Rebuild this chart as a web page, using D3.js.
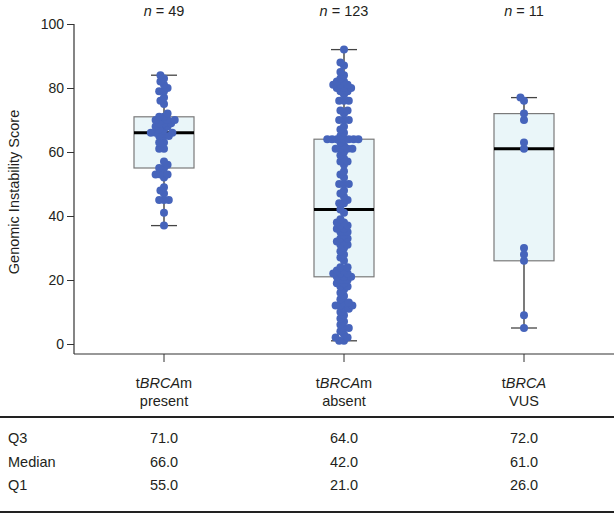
<!DOCTYPE html>
<html><head><meta charset="utf-8">
<script src="https://cdn.jsdelivr.net/npm/d3@7"></script>
<style>
body{margin:0;background:#fff;}
svg text{font-family:"Liberation Sans",Arial,sans-serif;fill:#231f20;}
</style></head>
<body><svg id="c" width="614" height="515"></svg>
<script>
const categories = ["present", "absent", "VUS"];
const catLine1 = [["t","BRCA","m"],["t","BRCA","m"],["t","BRCA",""]];
const catLine2 = ["present", "absent", "VUS"];
const nCounts = [49, 123, 11];
const q3Values = [71, 64, 72];
const medianValues = [66, 42, 61];
const q1Values = [55, 21, 26];
const rowLabels = ["Q3", "Median", "Q1"];
const yTicks = [0, 20, 40, 60, 80, 100];

const presentScores = [37,41,45,45,45,47,48,49,52,53,53,53,55,55,56,57,61,61,63,63,65,65,65,66,66,66,67,67,68,68,69,69,69,70,70,70,71,71,72,75,76,77,79,79,80,81,82,83,84];
const absentScores = [92,88,87,85,84,83,82,82,81,81,81,80,80,80,79,79,78,76,76,76,73,73,72,70,70,70,68,67,66,65,64,64,64,64,64,64,64,63,62,61,61,61,61,60,59,58,57,57,56,54,53,52,50,50,50,48,47,46,45,44,44,42,41,39,38,38,37,37,36,36,35,35,34,33,33,32,32,31,31,30,29,28,27,26,24,24,23,23,22,22,22,21,21,21,20,20,19,19,18,18,17,16,15,14,13,13,12,12,12,11,11,10,9,8,7,6,5,5,4,3,2,2,1,1];
const vusScores = [77,76,72,70,63,61,30,28,26,9,5];
const groups = [presentScores, absentScores, vusScores];

const svg = d3.select("#c");
const y = d3.scaleLinear().domain([0,100]).range([344,24]);
const x = d3.scaleBand().domain(categories).range([74,614]);
const cx = c => x(c) + x.bandwidth()/2;
const boxW = 60, capW = 26, R = 4, D = 4.8;

// y axis
const yAxis = svg.append("g").attr("transform","translate(74,0)")
  .call(d3.axisLeft(y).tickValues(yTicks).tickSize(7).tickPadding(3));
yAxis.select(".domain").remove();
yAxis.selectAll("line").attr("stroke","#333");
yAxis.selectAll("text").style("font-size","14px").attr("fill","#231f20");
svg.append("line").attr("x1",74).attr("x2",74).attr("y1",y(100)).attr("y2",354).attr("stroke","#333").attr("stroke-width",1.2);

// x axis
const xAxis = svg.append("g").attr("transform","translate(0,354)")
  .call(d3.axisBottom(x).tickSize(8).tickFormat(""));
xAxis.select(".domain").remove();
xAxis.selectAll("line").attr("stroke","#333");
svg.append("line").attr("x1",74).attr("x2",614).attr("y1",354).attr("y2",354).attr("stroke","#333").attr("stroke-width",1.2);

svg.append("text").attr("transform","translate(19,192) rotate(-90)")
  .attr("text-anchor","middle").style("font-size","14.5px").text("Genomic Instability Score");

function swarm(vals){
  const sorted = vals.map((v,i)=>({v,i})).sort((a,b)=>a.v-b.v);
  const placed = [];
  sorted.forEach(p=>{
    const py = y(p.v);
    const iv = [];
    placed.forEach(q=>{
      const dy = Math.abs(q.y-py);
      if (dy < D){ const h = Math.sqrt(D*D-dy*dy); iv.push([q.x-h,q.x+h]); }
    });
    const cands=[0];
    iv.forEach(a=>{cands.push(a[0],a[1]);});
    cands.sort((a,b)=>Math.abs(a)-Math.abs(b) || a-b);
    let bx=0;
    for (const c of cands){
      if (!iv.some(a=>c>a[0]+1e-6 && c<a[1]-1e-6)){ bx=c; break; }
    }
    placed.push({x:bx,y:py,v:p.v});
  });
  return placed;
}

categories.forEach((c,i)=>{
  const g = svg.append("g");
  const vals = groups[i];
  const xc = cx(c);
  const mn = d3.min(vals), mx = d3.max(vals);
  g.append("line").attr("x1",xc).attr("x2",xc).attr("y1",y(mx)).attr("y2",y(mn)).attr("stroke","#222").attr("stroke-width",1.2);
  g.append("rect").attr("x",xc-boxW/2).attr("width",boxW)
    .attr("y",y(q3Values[i])).attr("height",y(q1Values[i])-y(q3Values[i]))
    .attr("fill","#eaf6f9").attr("stroke","#7a7a7a").attr("stroke-width",1.2);
  [mn,mx].forEach(v=>g.append("line").attr("x1",xc-capW/2).attr("x2",xc+capW/2)
    .attr("y1",y(v)).attr("y2",y(v)).attr("stroke","#444").attr("stroke-width",1.3));
  g.append("line").attr("x1",xc-boxW/2).attr("x2",xc+boxW/2)
    .attr("y1",y(medianValues[i])).attr("y2",y(medianValues[i])).attr("stroke","#000").attr("stroke-width",3);
  const pts = swarm(vals);
  g.selectAll("circle").data(pts).enter().append("circle")
    .attr("cx",d=>xc+d.x).attr("cy",d=>d.y).attr("r",R).attr("fill","#4664bb");
  const t = svg.append("text").attr("x",xc).attr("y",16).attr("text-anchor","middle").style("font-size","14.5px");
  t.append("tspan").style("font-style","italic").text("n");
  t.append("tspan").text(" = "+nCounts[i]);
  const l1 = svg.append("text").attr("x",xc).attr("y",388).attr("text-anchor","middle").style("font-size","14.5px");
  l1.append("tspan").text(catLine1[i][0]);
  l1.append("tspan").style("font-style","italic").text(catLine1[i][1]);
  if (catLine1[i][2]) l1.append("tspan").text(catLine1[i][2]);
  svg.append("text").attr("x",xc).attr("y",406).attr("text-anchor","middle").style("font-size","14.5px").text(catLine2[i]);
  [q3Values[i],medianValues[i],q1Values[i]].forEach((v,r)=>{
    svg.append("text").attr("x",xc).attr("y",443+r*23.5).attr("text-anchor","middle").style("font-size","14.5px").text(v.toFixed(1));
  });
});

rowLabels.forEach((lab,r)=>{
  svg.append("text").attr("x",8).attr("y",443+r*23.5).style("font-size","14.5px").text(lab);
});
svg.append("line").attr("x1",0).attr("x2",614).attr("y1",417).attr("y2",417).attr("stroke","#222").attr("stroke-width",2);
svg.append("line").attr("x1",0).attr("x2",614).attr("y1",512).attr("y2",512).attr("stroke","#222").attr("stroke-width",2);
</script></body></html>
